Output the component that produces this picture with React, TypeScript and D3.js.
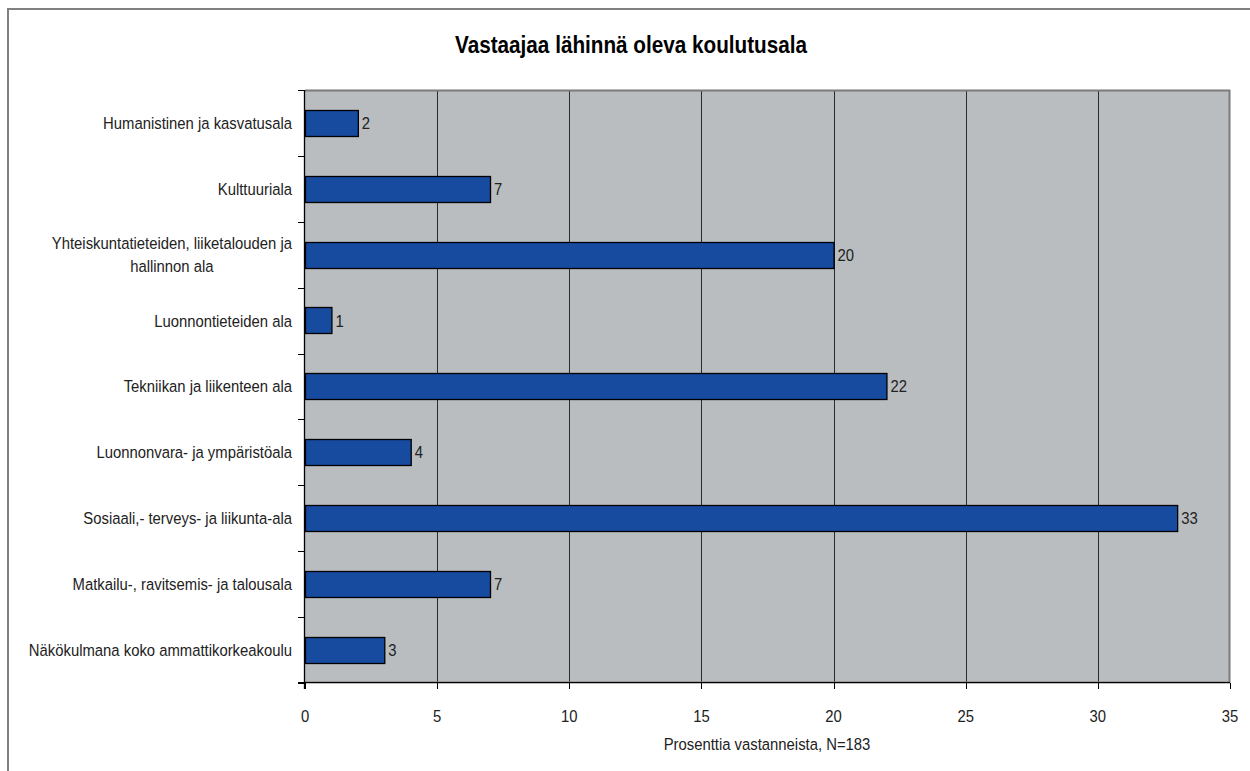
import React, { useEffect, useRef } from "react";
import * as d3 from "d3";

const categories: string[][] = [
  ["Humanistinen ja kasvatusala"],
  ["Kulttuuriala"],
  ["Yhteiskuntatieteiden, liiketalouden ja", "hallinnon ala"],
  ["Luonnontieteiden ala"],
  ["Tekniikan ja liikenteen ala"],
  ["Luonnonvara- ja ympäristöala"],
  ["Sosiaali,- terveys- ja liikunta-ala"],
  ["Matkailu-, ravitsemis- ja talousala"],
  ["Näkökulmana koko ammattikorkeakoulu"],
];
const values: number[] = [2, 7, 20, 1, 22, 4, 33, 7, 3];
const xTicks: number[] = [0, 5, 10, 15, 20, 25, 30, 35];
const title = "Vastaajaa lähinnä oleva koulutusala";
const xTitle = "Prosenttia vastanneista, N=183";

const W = 1250;
const H = 771;
const FONT = "'Liberation Sans', Arial, sans-serif";
const FS = 16.5;
const SX = 0.9;

export default function App() {
  const ref = useRef<SVGSVGElement | null>(null);

  useEffect(() => {
    const svg = d3.select(ref.current);
    svg.selectAll("*").remove();

    const addText = (parent: any, x: number, y: number, txt: string, anchor: string,
      size = FS, weight = "normal", fill = "#222", dy = "0") =>
      parent.append("text")
        .attr("transform", `translate(${x},${y}) scale(${SX},1)`)
        .attr("dy", dy)
        .attr("text-anchor", anchor)
        .attr("font-family", FONT).attr("font-size", size).attr("font-weight", weight)
        .attr("fill", fill)
        .text(txt);

    const left = 305, right = 1230, top = 90, bottom = 683;
    const x = d3.scaleLinear().domain([0, 35]).range([left, right]);
    const idx = categories.map((_, i) => String(i));
    const y = d3.scaleBand().domain(idx).range([top, bottom]).paddingInner(0.6).paddingOuter(0.3);
    const step = (bottom - top) / categories.length;

    // outer frame
    svg.append("rect").attr("x", 8).attr("y", 9).attr("width", W + 10).attr("height", H + 10)
      .attr("fill", "#ffffff").attr("stroke", "#808080").attr("stroke-width", 2);

    // plot background
    svg.append("rect").attr("x", left).attr("y", top).attr("width", right - left).attr("height", bottom - top)
      .attr("fill", "#b9bdc0");

    // gridlines
    svg.append("g").selectAll("line").data(xTicks.filter(t => t > 0 && t < 35)).join("line")
      .attr("x1", d => Math.round(x(d)) + 0.5).attr("x2", d => Math.round(x(d)) + 0.5)
      .attr("y1", top).attr("y2", bottom)
      .attr("stroke", "#2b2b2b").attr("stroke-width", 1);

    // plot border (top, right, bottom)
    svg.append("path")
      .attr("d", `M${left},${top + 0.5}H${right - 0.5}V${bottom - 0.5}H${left}`)
      .attr("fill", "none").attr("stroke", "#7a7a7a").attr("stroke-width", 2);

    // bars
    svg.append("g").selectAll("rect").data(values).join("rect")
      .attr("x", x(0) + 0.5)
      .attr("y", (_, i) => Math.round(y(String(i))!) + 0.5)
      .attr("width", d => x(d) - x(0))
      .attr("height", Math.round(y.bandwidth()))
      .attr("fill", "#164b9f").attr("stroke", "#000000").attr("stroke-width", 1.3);

    // value labels
    const vg = svg.append("g");
    values.forEach((v, i) => {
      addText(vg, x(v) + 4, y(String(i))! + y.bandwidth() / 2, String(v), "start", FS, "normal", "#222", "0.36em");
    });

    // y axis line and ticks
    svg.append("line").attr("x1", left - 0.5).attr("x2", left - 0.5).attr("y1", top).attr("y2", bottom + 6)
      .attr("stroke", "#000").attr("stroke-width", 1.3);
    const yTicks = d3.range(categories.length + 1).map(i => top + i * step);
    svg.append("g").selectAll("line").data(yTicks).join("line")
      .attr("x1", left - 7).attr("x2", left).attr("y1", d => Math.round(d) + 0.5).attr("y2", d => Math.round(d) + 0.5)
      .attr("stroke", "#000").attr("stroke-width", 1);

    // x axis line and ticks
    svg.append("line").attr("x1", left - 7).attr("x2", right).attr("y1", bottom - 0.5).attr("y2", bottom - 0.5)
      .attr("stroke", "#000").attr("stroke-width", 1);
    svg.append("g").selectAll("line").data(xTicks).join("line")
      .attr("x1", d => Math.round(x(d)) + 0.5).attr("x2", d => Math.round(x(d)) + 0.5)
      .attr("y1", bottom).attr("y2", bottom + 6)
      .attr("stroke", "#000").attr("stroke-width", 1);
    const xg = svg.append("g");
    xTicks.forEach(t => addText(xg, x(t), 722, String(t), "middle"));

    // category labels
    const labelRight = 292;
    const lineH = 23;
    categories.forEach((lines, i) => {
      const cy = y(String(i))! + y.bandwidth() / 2;
      if (lines.length === 1) {
        addText(svg, labelRight, cy, lines[0], "end", FS, "normal", "#222", "0.36em");
      } else {
        const g = svg.append("g");
        const first = g.append("text").attr("font-family", FONT).attr("font-size", FS).text(lines[0]);
        const w = (first.node() as SVGTextElement).getComputedTextLength() * SX;
        first.remove();
        const cx = labelRight - w / 2;
        lines.forEach((ln, k) => {
          addText(g, cx, cy + (k - (lines.length - 1) / 2) * lineH, ln, "middle", FS, "normal", "#222", "0.36em");
        });
      }
    });

    // title
    addText(svg, 631, 53, title, "middle", 23, "bold", "#000");

    // x axis title
    addText(svg, 767, 750, xTitle, "middle");
  }, []);

  return (
    <svg ref={ref} width={W} height={H}
      style={{ position: "absolute", left: 0, top: 0, display: "block", background: "#fff" }} />
  );
}
